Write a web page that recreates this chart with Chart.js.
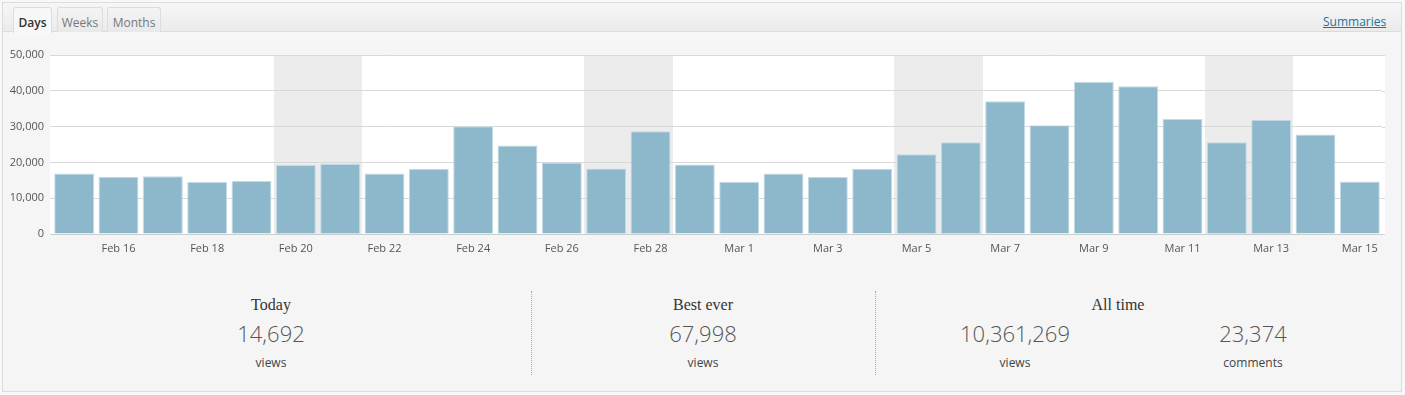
<!DOCTYPE html>
<html>
<head>
<meta charset="utf-8">
<script src="https://cdn.jsdelivr.net/npm/chart.js@4.4.1/dist/chart.umd.min.js"></script>
<style>
  html,body{margin:0;padding:0;background:#f8f8f8;width:1405px;height:395px;overflow:hidden;font-family:"Open Sans",sans-serif;}
  #box{position:absolute;left:2px;top:2px;width:1398px;height:388px;border:1px solid #dcdcdc;background:#f5f5f5;}
  #hdr{position:absolute;left:3px;top:3px;width:1398px;height:28px;background:linear-gradient(#f6f6f6,#ebebeb);border-bottom:1px solid #dcdcdc;}
  #sub{position:absolute;left:3px;top:32px;width:1398px;height:10px;background:linear-gradient(#f7f7f7,#f5f5f5);}
  .tab{position:absolute;top:7px;height:25px;border:1px solid #dcdcdc;border-bottom:none;border-radius:3px 3px 0 0;background:linear-gradient(#f4f4f4,#e9e9e9);font-size:12px;line-height:29px;text-align:center;color:#777;box-sizing:border-box;}
  .tab.on{background:#f7f7f7;color:#333;height:26px;font-weight:600;}
  #sum{position:absolute;left:1323px;top:13px;font-size:12px;color:#1e73a0;text-decoration:underline;font-weight:400;}
  #cwrap{position:absolute;left:0;top:40px;width:1405px;height:222px;}
  .ttl{position:absolute;font-family:"Liberation Serif","DejaVu Serif",serif;font-size:16px;color:#333;transform:translateX(-50%);white-space:nowrap;}
  .num{position:absolute;font-size:22px;font-weight:300;color:#555;transform:translateX(-50%);white-space:nowrap;}
  .lbl{position:absolute;font-size:12px;color:#444;transform:translateX(-50%);white-space:nowrap;}
  .div{position:absolute;top:291px;height:84px;border-left:1px dotted #aaa;}
</style>
</head>
<body>
<div id="box"></div>
<div id="hdr"></div>
<div id="sub"></div>
<div class="tab on" style="left:13px;width:39px;">Days</div>
<div class="tab" style="left:57px;width:46px;">Weeks</div>
<div class="tab" style="left:107px;width:54px;">Months</div>
<div id="sum">Summaries</div>
<div class="div" style="left:531px;"></div>
<div class="div" style="left:875px;"></div>
<div class="ttl" style="left:271px;top:296px;">Today</div>
<div class="num" style="left:271px;top:318px;">14,692</div>
<div class="lbl" style="left:271px;top:354px;">views</div>
<div class="ttl" style="left:703px;top:296px;">Best ever</div>
<div class="num" style="left:703px;top:318px;">67,998</div>
<div class="lbl" style="left:703px;top:354px;">views</div>
<div class="ttl" style="left:1118px;top:296px;">All time</div>
<div class="num" style="left:1015px;top:318px;">10,361,269</div>
<div class="lbl" style="left:1015px;top:354px;">views</div>
<div class="num" style="left:1253px;top:318px;">23,374</div>
<div class="lbl" style="left:1253px;top:354px;">comments</div>
<div id="cwrap"><canvas id="c"></canvas></div>
<script>
const dayLabels = ["Feb 15","Feb 16","Feb 17","Feb 18","Feb 19","Feb 20","Feb 21","Feb 22","Feb 23","Feb 24","Feb 25","Feb 26","Feb 27","Feb 28","Feb 29","Mar 1","Mar 2","Mar 3","Mar 4","Mar 5","Mar 6","Mar 7","Mar 8","Mar 9","Mar 10","Mar 11","Mar 12","Mar 13","Mar 14","Mar 15"];
const viewCounts = [16900,16000,16100,14500,14800,19250,19600,16900,18200,30100,24700,20000,18300,28700,19400,14600,16900,15900,18200,22300,25600,37100,30400,42500,41300,32100,25600,31900,27800,14692];
const shadedDays = [5,6,12,13,19,20,26,27];
const yTicks = [0,10000,20000,30000,40000,50000];

const shadePlugin = {
  id:'shade',
  beforeDraw(chart){
    const {ctx, chartArea:a, scales:{x,y}} = chart;
    ctx.save();
    ctx.fillStyle = '#ffffff';
    ctx.fillRect(a.left-2, a.top, a.right-a.left+5, a.bottom-a.top);
    const w = (a.right-a.left)/dayLabels.length;
    ctx.fillStyle = '#ececec';
    shadedDays.forEach(i=>{
      const cx = x.getPixelForValue(i);
      const l = Math.round(cx - w/2), r = Math.round(cx + w/2);
      ctx.fillRect(l, Math.round(a.top), r-l, Math.round(a.bottom-a.top));
    });
    ctx.strokeStyle = '#d8d8d8';
    ctx.lineWidth = 1;
    yTicks.forEach(v=>{
      const py = Math.round(y.getPixelForValue(v)) + 0.5;
      ctx.beginPath(); ctx.moveTo(a.right, py); ctx.lineTo(a.right+3, py); ctx.stroke();
    });
    ctx.restore();
  }
};

new Chart(document.getElementById('c'), {
  type:'bar',
  data:{labels:dayLabels, datasets:[{data:viewCounts, backgroundColor:'#8db8cb', borderColor:'#c3dbe6', borderWidth:1, barPercentage:0.9, categoryPercentage:1.0}]},
  options:{
    responsive:true, maintainAspectRatio:false, animation:false,
    layout:{padding:{top:15,right:23,left:0,bottom:0}},
    plugins:{legend:{display:false}, tooltip:{enabled:false}},
    scales:{
      x:{
        grid:{display:false, drawTicks:false},
        border:{color:'#cccccc'},
        afterFit(s){ s.height = 28; },
        ticks:{autoSkip:false, maxRotation:0, padding:8, color:'#555', font:{family:'Open Sans', size:11},
          callback(v,i){ return i%2===1 ? dayLabels[i] : ''; }}
      },
      y:{
        min:0, max:50000,
        afterFit(s){ s.width = 52; },
        afterBuildTicks(s){ s.ticks = yTicks.map(v=>({value:v})); },
        grid:{color:'#d8d8d8', drawTicks:true, tickLength:2},
        border:{display:false},
        ticks:{padding:6, color:'#555', font:{family:'Open Sans', size:11},
          callback(v){ return v.toLocaleString('en-US'); }}
      }
    }
  },
  plugins:[shadePlugin]
});
</script>
</body>
</html>
